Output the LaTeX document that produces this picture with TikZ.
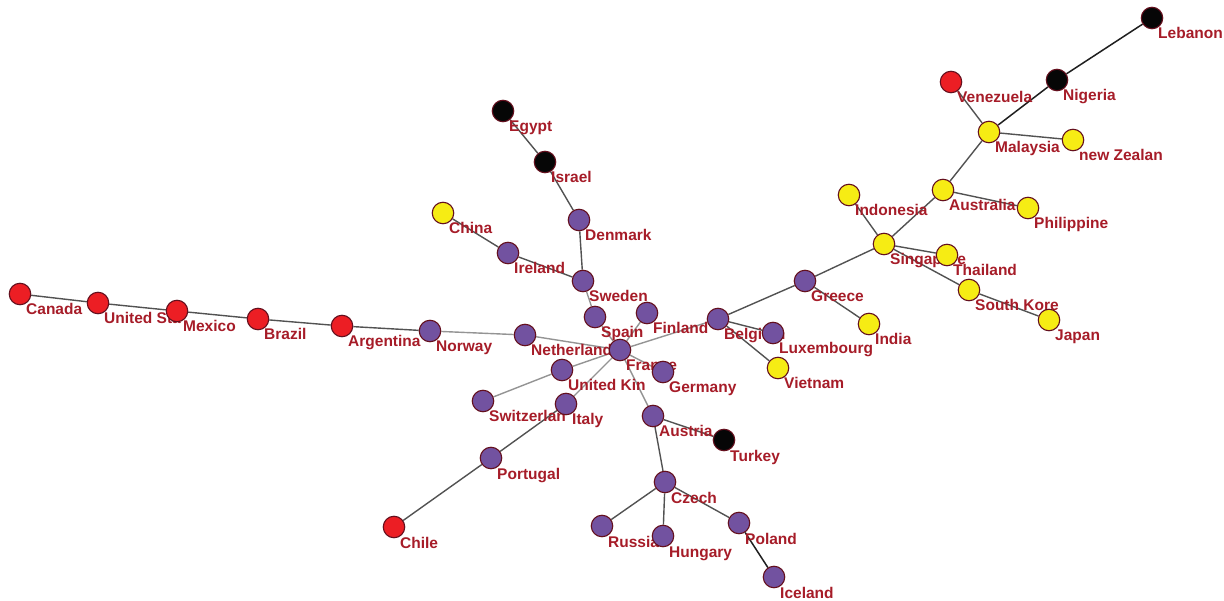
\documentclass[tikz,border=0pt]{standalone}
\usepackage{fontspec}
\setmainfont{Liberation Sans}
\usetikzlibrary{calc,positioning}
\definecolor{labred}{RGB}{166,28,40}
\definecolor{rimred}{RGB}{100,16,30}
\definecolor{fillred}{RGB}{236,30,36}
\definecolor{fillpur}{RGB}{114,82,160}
\definecolor{fillyel}{RGB}{246,236,20}
\definecolor{fillblk}{RGB}{6,6,6}
\pgfdeclarelayer{edges}
\pgfdeclarelayer{labels}
\pgfsetlayers{edges,labels,main}
\tikzset{
    country/.style = { circle, draw=rimred, line width=1.1pt, minimum size=21.5pt, inner sep=0pt },
       redc/.style = { country, fill=fillred },
       purc/.style = { country, fill=fillpur },
       yelc/.style = { country, fill=fillyel },
       blkc/.style = { country, fill=fillblk },
     cntext/.style = { anchor=base west, inner sep=0pt, text=labred,
                       font=\fontsize{15.5}{18}\selectfont\bfseries },
       link/.style = { draw=black!68, line width=1.4pt },
      light/.style = { draw=black!42, line width=1.4pt },
       dark/.style = { draw=black!88, line width=1.5pt }
}
\newcommand{\cname}[2]{\node[cntext] at ($(#1)+(6,21)$) {#2};}

\begin{document}
\begin{tikzpicture}[x=1pt, y=-1pt]
  \useasboundingbox (0,0) rectangle (1224,601);

  % countries
  \node[blkc] (lebanon)     at (1152,18)  {};
  \node[blkc] (nigeria)     at (1057,80)  {};
  \node[redc] (venezuela)   at (951,82)   {};
  \node[yelc] (malaysia)    at (989,132)  {};
  \node[yelc] (newzealand)  at (1073,140) {};
  \node[yelc] (australia)   at (943,190)  {};
  \node[yelc] (philippine)  at (1028,208) {};
  \node[yelc] (indonesia)   at (849,195)  {};
  \node[yelc] (singapore)   at (884,244)  {};
  \node[yelc] (thailand)    at (947,255)  {};
  \node[yelc] (southkorea)  at (969,290)  {};
  \node[yelc] (japan)       at (1049,320) {};
  \node[purc] (greece)      at (805,281)  {};
  \node[yelc] (india)       at (869,324)  {};
  \node[purc] (belgium)     at (718,319)  {};
  \node[purc] (luxembourg)  at (773,333)  {};
  \node[yelc] (vietnam)     at (778,368)  {};

  \node[blkc] (egypt)       at (503,111)  {};
  \node[blkc] (israel)      at (545,162)  {};
  \node[purc] (denmark)     at (579,220)  {};
  \node[yelc] (china)       at (443,213)  {};
  \node[purc] (ireland)     at (508,253)  {};
  \node[purc] (sweden)      at (583,281)  {};
  \node[purc] (spain)       at (595,317)  {};
  \node[purc] (finland)     at (647,313)  {};
  \node[purc] (france)      at (620,350)  {};
  \node[purc] (germany)     at (663,372)  {};

  \node[redc] (canada)      at (20,294)   {};
  \node[redc] (unitedsta)   at (98,303)   {};
  \node[redc] (mexico)      at (177,311)  {};
  \node[redc] (brazil)      at (258,319)  {};
  \node[redc] (argentina)   at (342,326)  {};
  \node[purc] (norway)      at (430,331)  {};
  \node[purc] (netherland)  at (525,335)  {};

  \node[purc] (unitedkin)   at (562,370)  {};
  \node[purc] (switzerlan)  at (483,401)  {};
  \node[purc] (italy)       at (566,404)  {};
  \node[purc] (portugal)    at (491,458)  {};
  \node[redc] (chile)       at (394,527)  {};
  \node[purc] (austria)     at (653,416)  {};
  \node[blkc] (turkey)      at (724,440)  {};
  \node[purc] (czech)       at (665,482)  {};
  \node[purc] (russia)      at (602,526)  {};
  \node[purc] (hungary)     at (663,536)  {};
  \node[purc] (poland)      at (739,523)  {};
  \node[purc] (iceland)     at (774,577)  {};

  % names
  \begin{pgfonlayer}{labels}
    \cname{lebanon}{Lebanon}
    \cname{nigeria}{Nigeria}
    \cname{venezuela}{Venezuela}
    \cname{malaysia}{Malaysia}
    \cname{newzealand}{new Zealan}
    \cname{australia}{Australia}
    \cname{philippine}{Philippine}
    \cname{indonesia}{Indonesia}
    \cname{singapore}{Singapore}
    \cname{thailand}{Thailand}
    \cname{southkorea}{South Kore}
    \cname{japan}{Japan}
    \cname{greece}{Greece}
    \cname{india}{India}
    \cname{belgium}{Belgium}
    \cname{luxembourg}{Luxembourg}
    \cname{vietnam}{Vietnam}
    \cname{egypt}{Egypt}
    \cname{israel}{Israel}
    \cname{denmark}{Denmark}
    \cname{china}{China}
    \cname{ireland}{Ireland}
    \cname{sweden}{Sweden}
    \cname{spain}{Spain}
    \cname{finland}{Finland}
    \cname{france}{France}
    \cname{germany}{Germany}
    \cname{canada}{Canada}
    \cname{unitedsta}{United Sta}
    \cname{mexico}{Mexico}
    \cname{brazil}{Brazil}
    \cname{argentina}{Argentina}
    \cname{norway}{Norway}
    \cname{netherland}{Netherland}
    \cname{unitedkin}{United Kin}
    \cname{switzerlan}{Switzerlan}
    \cname{italy}{Italy}
    \cname{portugal}{Portugal}
    \cname{chile}{Chile}
    \cname{austria}{Austria}
    \cname{turkey}{Turkey}
    \cname{czech}{Czech}
    \cname{russia}{Russia}
    \cname{hungary}{Hungary}
    \cname{poland}{Poland}
    \cname{iceland}{Iceland}
  \end{pgfonlayer}

  % links
  \begin{pgfonlayer}{edges}
    \draw[dark] (lebanon) -- (nigeria) -- (malaysia);
    \draw[link] (venezuela) -- (malaysia) -- (newzealand);
    \draw[link] (malaysia) -- (australia) -- (philippine);
    \draw[link] (australia) -- (singapore);
    \draw[link] (indonesia) -- (singapore) -- (thailand);
    \draw[link] (singapore) -- (southkorea) -- (japan);
    \draw[link] (singapore) -- (greece) -- (india);
    \draw[link] (greece) -- (belgium) -- (luxembourg);
    \draw[link] (belgium) -- (vietnam);
    \draw[light] (belgium) -- (france);
    \draw[light] (finland) -- (france);
    \draw[light] (sweden) -- (spain) -- (france);
    \draw[link] (sweden) -- (denmark) -- (israel) -- (egypt);
    \draw[link] (sweden) -- (ireland) -- (china);
    \draw[light] (france) -- (netherland) -- (norway);
    \draw[link] (norway) -- (argentina) -- (brazil) -- (mexico) -- (unitedsta) -- (canada);
    \draw[light] (france) -- (unitedkin) -- (switzerlan);
    \draw[light] (france) -- (italy);
    \draw[link] (italy) -- (portugal) -- (chile);
    \draw[light] (france) -- (germany);
    \draw[light] (france) -- (austria);
    \draw[link] (austria) -- (turkey);
    \draw[link] (austria) -- (czech) -- (russia);
    \draw[link] (czech) -- (hungary);
    \draw[link] (czech) -- (poland);
    \draw[dark] (poland) -- (iceland);
  \end{pgfonlayer}
\end{tikzpicture}
\end{document}
